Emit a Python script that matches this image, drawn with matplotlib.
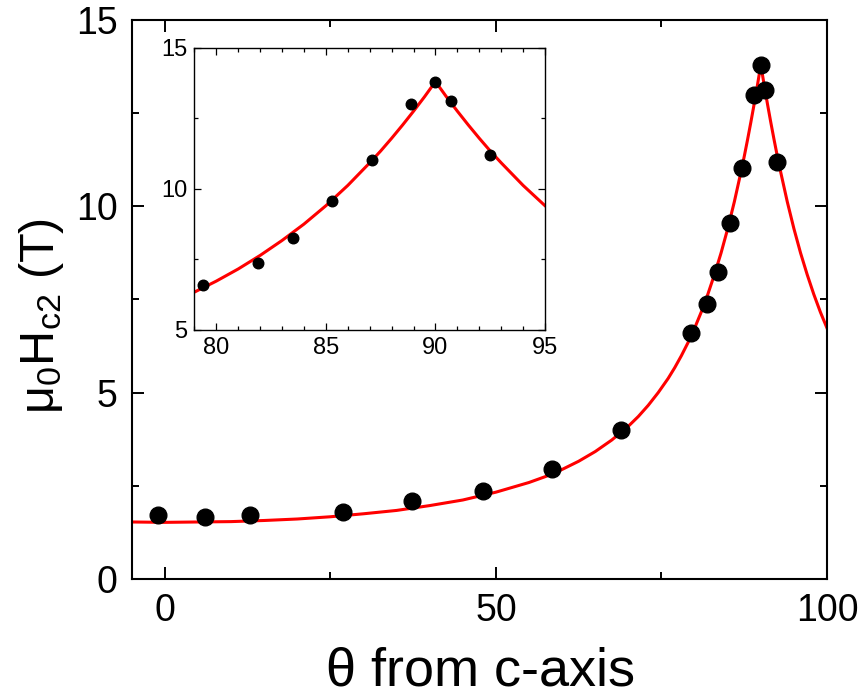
import matplotlib
matplotlib.use("Agg")
import matplotlib.pyplot as plt
from matplotlib.ticker import MultipleLocator

plt.rcParams['font.family'] = ['Liberation Sans', 'DejaVu Sans']
plt.rcParams['mathtext.default'] = 'regular'

# measured points: angle from c-axis (deg) and upper critical field (T)
theta = [-1.1, 6.0, 12.9, 26.9, 37.4, 48.0, 58.4, 68.9, 79.4, 81.9, 83.5,
         85.3, 87.1, 88.9, 90.0, 90.7, 92.5]
hc2 = [1.73, 1.67, 1.73, 1.81, 2.08, 2.35, 2.95, 4.01, 6.60, 7.37, 8.25,
       9.56, 11.03, 13.0, 13.78, 13.11, 11.19]

# fit curve
fit_theta = [-5, 0, 5, 10, 15, 20, 25, 30, 35, 40, 45, 50, 55, 57.5, 60,
             62.5, 65, 67.5, 70, 71.5, 73, 74.5, 76, 77, 78, 79, 80, 81, 82,
             83, 84, 85, 86, 87, 87.5, 88, 88.5, 89, 89.5, 90, 90.5, 91,
             91.5, 92, 92.5, 93, 94, 95, 96, 97, 98, 99, 100]
fit_hc2 = [1.53, 1.52, 1.53, 1.54, 1.57, 1.61, 1.67, 1.75, 1.84, 1.97, 2.12,
           2.33, 2.59, 2.75, 2.94, 3.16, 3.42, 3.73, 4.10, 4.36, 4.66, 5.00,
           5.38, 5.67, 5.99, 6.34, 6.73, 7.16, 7.64, 8.17, 8.75, 9.40, 10.12,
           10.92, 11.34, 11.79, 12.26, 12.75, 13.26, 13.80, 13.26, 12.75,
           12.26, 11.79, 11.34, 10.92, 10.12, 9.40, 8.75, 8.17, 7.64, 7.16,
           6.73]

fig = plt.figure(figsize=(8.66, 6.96), dpi=100)

# main panel
ax = fig.add_axes([0.1521, 0.1681, 0.8029, 0.8032])
ax.plot(fit_theta, fit_hc2, color='#ff0000', lw=2.2, zorder=2)
ax.plot(theta, hc2, 'o', color='black', ms=12, zorder=3)
ax.set_xlim(-5, 100)
ax.set_ylim(0, 15)
ax.xaxis.set_major_locator(MultipleLocator(50))
ax.xaxis.set_minor_locator(MultipleLocator(25))
ax.yaxis.set_major_locator(MultipleLocator(5))
ax.yaxis.set_minor_locator(MultipleLocator(2.5))
ax.tick_params(which='both', direction='in', top=True, right=True,
               width=1.4, colors='black')
ax.tick_params(which='major', length=8.5, labelsize=27, pad=10)
ax.tick_params(which='minor', length=5)
for s in ax.spines.values():
    s.set_linewidth(1.5)

fig.text(479.5 / 866, 1 - 685 / 696, r'$\theta$ from c-axis', fontsize=39,
         ha='center', va='baseline')
fig.text(42 / 866, 1 - 316 / 696, 'μ$_0$H$_{c2}$ (T)', fontsize=35,
         rotation=90, ha='center', va='center')

# inset, zoom around 90 deg
ins = fig.add_axes([0.2244, 0.5259, 0.4050, 0.4056])
ins.plot(fit_theta, fit_hc2, color='#ff0000', lw=2.2, zorder=2)
ins.plot(theta, hc2, 'o', color='black', ms=7.6, zorder=3)
ins.set_xlim(79, 95)
ins.set_ylim(5, 15)
ins.xaxis.set_major_locator(MultipleLocator(5))
ins.xaxis.set_minor_locator(MultipleLocator(1))
ins.yaxis.set_major_locator(MultipleLocator(5))
ins.yaxis.set_minor_locator(MultipleLocator(2.5))
ins.tick_params(which='both', direction='in', top=True, right=True,
                width=0.9, colors='black')
ins.tick_params(which='major', length=5, labelsize=17, pad=5)
ins.tick_params(which='minor', length=3)
for s in ins.spines.values():
    s.set_linewidth(1.0)

fig.savefig('out.png', dpi=100)
